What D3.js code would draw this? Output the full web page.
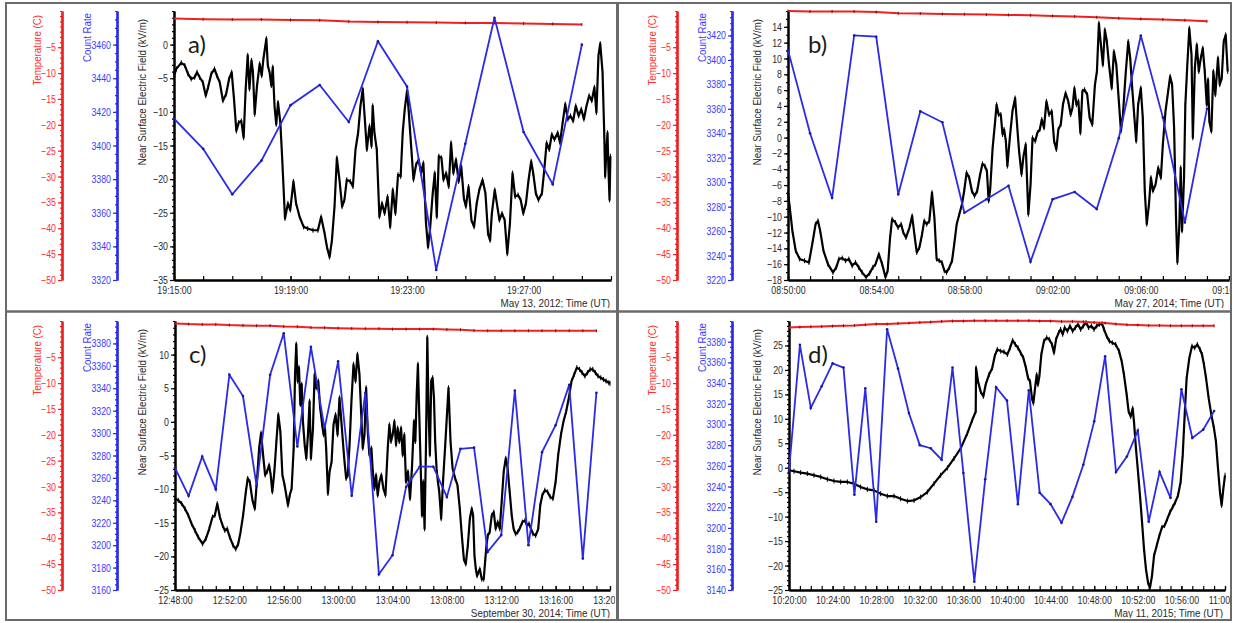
<!DOCTYPE html>
<html lang="en">
<head>
<meta charset="utf-8">
<title>Near surface electric field, count rate and temperature</title>
<script src="https://d3js.org/d3.v7.min.js"></script>
<style>
  body { margin: 0; background: #fff; }
  .tag { font-family: Lato, "Open Sans", sans-serif; font-size: 24px; fill: #1a1a1a; }
</style>
</head>
<body>
<script>
// every series is indexed by minutes after the panel's start time

// temperature (C), one sample per minute
const tempA = [0.54, 0.41, 0.35, 0.35, 0.27, 0.21, -0.04, -0.11, -0.17, -0.24, -0.31, -0.31, -0.42, -0.5, -0.62];
const tempB = [2.0, 1.9, 1.9, 1.9, 1.8, 1.56, 1.5, 1.43, 1.37, 1.31, 1.23, 1.18, 1.04, 0.93, 0.79, 0.6, 0.46, 0.35, 0.21, 0.02];
const tempC = [1.53, 1.40, 1.34, 1.34, 1.21, 1.14, 1.08, 1.08, 0.95, 0.88, 0.75, 0.69, 0.62, 0.56, 0.5, 0.5,
               0.43, 0.43, 0.43, 0.43, 0.37, 0.3, 0.17, 0.11, 0.11, 0.11, 0.11, 0.11, 0.11, 0.11, 0.11, 0.11];
const tempD = [0.75, 0.82, 0.88, 0.95, 1.01, 1.08, 1.14, 1.27, 1.40, 1.40, 1.53, 1.59, 1.72, 1.79, 1.92, 1.98, 1.98, 2.05, 2.05, 2.05,
               2.05, 2.05, 2.05, 1.98, 1.98, 1.92, 1.92, 1.85, 1.72, 1.59, 1.40, 1.27, 1.21, 1.14, 1.14, 1.08, 1.08, 1.08, 1.08, 1.08];

// count rate, one sample per minute
const countA = [3416, 3398, 3371, 3391, 3424, 3436, 3414, 3462, 3435, 3326, 3401, 3476, 3408, 3377, 3460];
const countB = [3408, 3340, 3287, 3420, 3419, 3290, 3358, 3349, 3275, 3286, 3297, 3235, 3286, 3292, 3278, 3336, 3420, 3353, 3267, 3360];
const countC = [3269, 3244, 3279, 3250, 3352, 3333, 3253, 3352, 3389, 3288, 3377, 3304, 3364, 3244, 3336, 3174,
                3191, 3252, 3270, 3270, 3243, 3286, 3287, 3194, 3209, 3338, 3200, 3283, 3307, 3343, 3188, 3336];
const countD = [3255, 3377, 3316, 3337, 3359, 3355, 3232, 3335, 3206, 3392, 3354, 3311, 3280, 3277, 3266, 3355, 3253, 3148, 3247, 3336,
                3323, 3223, 3333, 3234, 3223, 3205, 3230, 3261, 3303, 3366, 3254, 3269, 3294, 3206, 3254, 3229, 3334, 3287, 3295, 3313];

// near surface electric field (kV/m): [minute, value]
const fieldA = [[0,-4.6],[0.08,-3.6],[0.25,-2.7],[0.37,-3.1],[0.48,-4.35],[0.59,-5.1],[0.71,-4.85],[0.79,-4.1],[0.88,-4.85],[0.99,-5.6],
  [1.09,-7.6],[1.17,-6.35],[1.28,-4.35],[1.39,-3.6],[1.47,-4.6],[1.57,-5.6],[1.68,-8.35],[1.79,-7.35],[1.89,-5.1],[1.98,-4.1],
  [2.06,-8.1],[2.14,-12.85],[2.22,-11.6],[2.31,-11.35],[2.39,-13.85],[2.46,-6.6],[2.53,-1.6],[2.59,-6.6],[2.66,-2.35],[2.71,-4.1],
  [2.77,-10.35],[2.85,-6.1],[2.94,-2.85],[3.01,-4.6],[3.07,-2.1],[3.17,0.9],[3.22,-3.1],[3.28,-4.1],[3.34,-6.1],[3.39,-3.35],
  [3.45,-9.1],[3.51,-11.85],[3.57,-8.6],[3.65,-11.6],[3.71,-16.6],[3.81,-25.85],[3.91,-23.6],[3.99,-24.6],[4.10,-20.35],[4.19,-23.6],
  [4.31,-25.6],[4.45,-27.1],[4.59,-27.35],[4.77,-27.6],[4.94,-27.6],[5.05,-25.6],[5.17,-28.1],[5.25,-30.1],[5.34,-31.6],[5.42,-29.1],
  [5.51,-24.1],[5.59,-16.85],[5.68,-20.1],[5.77,-24.1],[5.85,-23.1],[5.93,-20.1],[6.05,-20.35],[6.14,-21.1],[6.23,-15.6],[6.32,-13.1],
  [6.40,-9.1],[6.48,-6.6],[6.55,-11.1],[6.62,-15.6],[6.71,-12.1],[6.78,-15.1],[6.82,-9.1],[6.88,-13.1],[6.96,-15.6],[7.05,-25.6],
  [7.14,-23.6],[7.23,-25.1],[7.33,-22.6],[7.42,-27.1],[7.51,-21.6],[7.60,-25.1],[7.69,-19.35],[7.78,-19.6],[7.85,-13.1],[7.92,-9.6],
  [8.00,-6.85],[8.06,-10.1],[8.14,-15.1],[8.22,-20.1],[8.31,-17.85],[8.40,-17.1],[8.48,-19.1],[8.56,-17.6],[8.65,-26.6],[8.72,-30.1],
  [8.79,-27.35],[8.88,-22.1],[8.95,-19.1],[9.02,-25.6],[9.09,-16.6],[9.18,-16.85],[9.25,-20.1],[9.34,-19.1],[9.43,-21.1],[9.51,-14.6],
  [9.59,-19.1],[9.68,-17.1],[9.77,-20.35],[9.86,-18.1],[9.95,-22.85],[10.02,-24.1],[10.11,-21.1],[10.21,-26.1],[10.30,-27.1],[10.39,-23.6],
  [10.48,-21.6],[10.59,-20.1],[10.69,-22.1],[10.78,-28.1],[10.85,-29.1],[10.91,-25.1],[11.01,-21.6],[11.10,-24.1],[11.17,-26.1],[11.26,-25.1],
  [11.35,-26.1],[11.44,-31.1],[11.53,-26.6],[11.62,-19.1],[11.71,-22.6],[11.81,-22.35],[11.90,-23.1],[11.99,-25.1],[12.08,-23.6],[12.17,-20.1],
  [12.26,-17.35],[12.33,-19.1],[12.42,-22.1],[12.51,-23.1],[12.63,-22.1],[12.71,-18.6],[12.79,-14.6],[12.88,-15.6],[12.97,-13.35],[13.06,-14.1],
  [13.17,-13.1],[13.25,-14.6],[13.34,-11.6],[13.43,-8.85],[13.52,-11.1],[13.61,-10.6],[13.70,-11.35],[13.79,-9.1],[13.89,-10.6],[13.98,-9.6],
  [14.07,-11.1],[14.16,-9.1],[14.25,-7.6],[14.34,-8.35],[14.43,-6.35],[14.50,-10.1],[14.57,-1.6],[14.63,0.15],[14.71,-4.1],[14.77,-13.6],
  [14.80,-19.6],[14.85,-15.1],[14.88,-13.1],[14.91,-18.1],[14.95,-23.1],[14.98,-16.6]];

const fieldB = [[0,-6.96],[0.08,-8.85],[0.20,-11.8],[0.35,-14.3],[0.53,-15.35],[0.75,-15.56],[0.95,-15.78],[1.10,-13.47],[1.25,-10.95],[1.36,-10.53],
  [1.46,-11.79],[1.61,-14.31],[1.81,-15.99],[2.04,-17.04],[2.19,-16.4],[2.31,-15.35],[2.46,-15.23],[2.61,-15.56],[2.76,-15.35],[2.91,-16.2],
  [3.06,-15.78],[3.21,-16.4],[3.36,-17.04],[3.54,-17.66],[3.70,-17.16],[3.85,-16.4],[3.97,-15.99],[4.12,-14.73],[4.27,-15.99],[4.42,-17.66],
  [4.52,-16.83],[4.63,-12.63],[4.72,-10.32],[4.87,-10.74],[4.99,-11.37],[5.13,-10.95],[5.23,-12.0],[5.35,-12.63],[5.51,-11.37],[5.63,-9.9],
  [5.75,-12.63],[5.84,-14.52],[5.96,-13.89],[6.08,-12.21],[6.18,-10.53],[6.29,-10.95],[6.41,-10.53],[6.53,-6.96],[6.64,-10.11],[6.74,-15.35],
  [6.86,-15.56],[6.98,-15.78],[7.09,-16.83],[7.19,-17.04],[7.32,-16.4],[7.44,-15.56],[7.54,-13.47],[7.65,-10.95],[7.77,-9.69],[7.89,-8.43],
  [7.99,-6.75],[8.10,-4.44],[8.22,-5.07],[8.34,-6.75],[8.46,-7.38],[8.58,-6.75],[8.70,-4.86],[8.82,-3.31],[8.93,-3.6],[9.02,-4.23],
  [9.10,-8.01],[9.17,-6.54],[9.28,-1.29],[9.38,1.65],[9.46,4.17],[9.55,2.91],[9.65,2.91],[9.73,0.39],[9.80,1.02],[9.88,-0.45],
  [9.95,-3.6],[10.06,-0.03],[10.18,3.33],[10.30,5.0],[10.41,0.81],[10.48,-1.71],[10.59,-4.65],[10.68,-2.34],[10.78,-0.87],[10.90,-9.69],
  [11.00,-5.91],[11.09,-0.03],[11.21,-0.45],[11.31,0.6],[11.42,1.02],[11.51,2.28],[11.61,1.23],[11.72,4.59],[11.84,2.91],[11.96,3.33],
  [12.07,-0.45],[12.17,-1.5],[12.26,1.02],[12.37,1.65],[12.47,4.17],[12.59,5.64],[12.71,4.59],[12.82,2.91],[12.90,3.75],[12.99,6.26],
  [13.08,4.17],[13.17,4.59],[13.26,0.6],[13.35,5.85],[13.45,6.05],[13.57,5.43],[13.68,2.49],[13.80,1.65],[13.92,6.68],[14.01,8.36],
  [14.10,14.45],[14.19,11.72],[14.28,9.2],[14.37,13.61],[14.46,12.14],[14.56,9.2],[14.68,6.26],[14.78,10.88],[14.89,9.2],[15.01,4.38],
  [15.10,0.81],[15.19,2.91],[15.31,7.94],[15.43,12.14],[15.52,10.04],[15.61,6.26],[15.70,2.91],[15.79,-0.45],[15.88,4.17],[16.00,6.26],
  [16.09,2.49],[16.18,-6.75],[16.27,-10.95],[16.37,-8.43],[16.46,-5.07],[16.55,-6.75],[16.67,-5.91],[16.79,-3.81],[16.91,-5.07],[17.00,-0.87],
  [17.12,3.33],[17.24,5.85],[17.33,7.73],[17.42,6.68],[17.51,1.23],[17.60,-10.53],[17.66,-15.78],[17.75,-10.95],[17.81,-3.81],[17.87,-11.79],
  [17.96,-5.07],[18.02,4.17],[18.11,9.2],[18.20,13.82],[18.30,10.46],[18.36,-0.03],[18.45,8.78],[18.54,11.72],[18.63,8.36],[18.72,10.04],
  [18.81,11.3],[18.90,8.36],[18.99,4.17],[19.05,7.31],[19.11,2.07],[19.20,0.81],[19.29,8.36],[19.38,5.43],[19.50,10.04],[19.58,6.68],
  [19.67,7.52],[19.76,12.14],[19.85,12.98],[19.94,8.36]];

const fieldC = [[0,-11.41],[0.24,-11.66],[0.49,-12.16],[0.73,-12.91],[0.98,-13.9],[1.22,-15.15],[1.47,-16.15],[1.71,-17.15],[2.03,-18.15],[2.27,-17.4],
  [2.52,-15.9],[2.76,-14.15],[2.93,-13.9],[3.11,-12.16],[3.30,-14.15],[3.50,-15.4],[3.67,-16.15],[3.84,-15.9],[4.03,-17.15],[4.28,-18.4],
  [4.47,-18.9],[4.65,-18.15],[4.82,-16.4],[5.01,-13.9],[5.21,-10.41],[5.35,-8.41],[5.50,-8.91],[5.70,-11.66],[5.87,-12.91],[6.04,-8.41],
  [6.19,-3.92],[6.33,-1.67],[6.48,-4.92],[6.63,-7.91],[6.77,-7.41],[6.92,-6.42],[7.04,-7.91],[7.16,-10.41],[7.31,-7.41],[7.46,-2.92],
  [7.60,1.07],[7.75,-1.42],[7.90,-7.91],[8.04,-9.16],[8.19,-10.91],[8.31,-12.41],[8.44,-10.91],[8.58,-9.91],[8.73,-3.92],[8.83,7.06],
  [8.92,11.56],[9.02,6.07],[9.12,8.06],[9.22,2.57],[9.32,5.57],[9.41,0.07],[9.54,-3.42],[9.66,-5.42],[9.78,-1.92],[9.90,3.07],
  [10.00,-5.42],[10.15,-0.92],[10.27,7.06],[10.39,5.07],[10.54,6.07],[10.68,2.07],[10.83,-0.43],[10.93,-1.92],[11.03,-0.92],[11.12,-3.92],
  [11.25,-10.66],[11.37,-7.41],[11.52,-5.92],[11.66,-0.43],[11.81,1.07],[11.96,-1.92],[12.10,3.57],[12.22,0.57],[12.35,-2.92],[12.47,-5.92],
  [12.59,-8.41],[12.71,-7.91],[12.84,-3.42],[12.98,3.07],[13.13,8.56],[13.28,6.07],[13.42,10.06],[13.57,7.06],[13.69,1.57],[13.81,-3.92],
  [13.94,-1.92],[14.06,5.07],[14.18,-1.42],[14.30,-4.92],[14.45,-3.92],[14.55,-7.41],[14.67,-9.91],[14.79,-7.91],[14.91,-10.91],[15.04,-8.91],
  [15.18,-7.91],[15.33,-9.91],[15.48,-10.91],[15.65,-3.92],[15.77,-0.43],[15.89,-2.92],[16.01,-1.92],[16.14,0.07],[16.26,-3.42],[16.38,-0.92],
  [16.50,-2.92],[16.63,-0.92],[16.75,-4.92],[16.87,-1.92],[16.99,-8.91],[17.14,-7.41],[17.29,-11.41],[17.43,-6.92],[17.58,0.07],[17.68,-2.92],
  [17.78,4.07],[17.87,8.56],[17.97,1.07],[18.07,-6.42],[18.17,-13.9],[18.26,-8.91],[18.36,-15.9],[18.46,-3.92],[18.56,12.56],[18.66,1.07],
  [18.75,-4.92],[18.85,6.07],[18.95,6.56],[19.05,3.57],[19.14,-2.92],[19.24,-6.92],[19.34,-8.91],[19.44,-10.41],[19.58,-14.4],[19.73,-8.41],
  [19.88,-3.42],[20.02,1.57],[20.12,5.07],[20.27,-2.92],[20.42,-6.92],[20.61,-8.41],[20.78,-9.41],[20.95,-12.91],[21.10,-16.9],[21.25,-20.4],
  [21.39,-21.14],[21.54,-18.4],[21.69,-14.4],[21.83,-12.91],[21.93,-13.9],[22.03,-19.9],[22.13,-21.89],[22.22,-22.89],[22.32,-22.39],[22.42,-21.89],
  [22.57,-23.39],[22.71,-23.39],[22.81,-20.89],[22.91,-18.4],[23.01,-16.9],[23.15,-16.4],[23.30,-13.9],[23.45,-13.41],[23.59,-15.9],[23.74,-14.9],
  [23.89,-15.9],[24.03,-11.91],[24.18,-7.41],[24.33,-5.42],[24.47,-6.92],[24.62,-10.41],[24.77,-13.9],[24.91,-15.9],[25.06,-16.65],[25.21,-16.4],
  [25.35,-15.9],[25.55,-14.9],[25.75,-14.65],[25.89,-15.4],[26.04,-15.15],[26.19,-15.9],[26.33,-16.65],[26.53,-16.9],[26.72,-15.9],[26.87,-12.41],
  [27.02,-10.91],[27.21,-10.16],[27.41,-10.41],[27.60,-11.16],[27.80,-11.41],[28.00,-8.91],[28.19,-4.92],[28.39,-1.92],[28.58,0.07],[28.78,1.57],
  [28.97,3.57],[29.17,6.07],[29.37,7.06],[29.56,8.06],[29.76,7.81],[29.95,7.31],[30.15,6.81],[30.34,7.31],[30.54,7.81],[30.73,7.81],
  [30.93,7.31],[31.12,6.81],[31.32,6.56],[31.52,6.31],[31.71,6.07],[31.91,5.82],[32.0,5.72]];

const fieldD = [[0,-0.51],[0.46,-0.72],[1.07,-0.99],[1.68,-1.2],[2.29,-1.54],[2.91,-1.88],[3.52,-2.36],[4.13,-2.71],[4.74,-2.91],[5.35,-2.91],
  [5.96,-3.26],[6.57,-3.94],[7.19,-4.42],[7.80,-4.63],[8.41,-5.31],[9.02,-5.79],[9.63,-5.79],[10.24,-6.34],[10.86,-6.82],[11.47,-6.69],
  [12.08,-6.0],[12.69,-4.97],[13.30,-3.26],[13.91,-1.54],[14.53,-0.03],[15.14,1.89],[15.75,3.95],[16.36,7.03],[16.82,9.78],[17.13,11.49],
  [17.16,20.41],[17.34,17.66],[17.58,15.6],[17.83,14.58],[18.04,16.98],[18.35,19.03],[18.65,20.41],[18.87,22.81],[19.11,24.18],[19.42,23.84],
  [19.72,23.7],[20.03,23.15],[20.28,24.52],[20.52,26.03],[20.76,25.21],[21.01,24.52],[21.25,23.49],[21.50,22.46],[21.74,20.41],[21.93,18.35],
  [22.11,17.66],[22.29,14.23],[22.42,13.2],[22.54,15.6],[22.72,19.03],[22.84,16.98],[22.97,18.69],[23.15,23.15],[23.39,25.89],[23.64,26.58],
  [23.88,26.24],[24.13,25.21],[24.31,23.49],[24.50,26.24],[24.74,27.61],[24.92,28.29],[25.11,27.27],[25.29,28.64],[25.54,27.95],[25.78,28.98],
  [26.02,27.95],[26.27,28.64],[26.51,29.32],[26.76,28.29],[27.00,28.98],[27.25,29.67],[27.49,28.64],[27.74,28.98],[27.98,28.29],[28.23,28.98],
  [28.47,29.32],[28.72,29.46],[28.90,28.29],[29.14,26.92],[29.39,25.89],[29.66,25.55],[29.97,25.21],[30.28,23.84],[30.52,21.78],[30.73,19.03],
  [30.98,14.92],[31.16,11.49],[31.35,10.46],[31.53,12.17],[31.65,9.43],[31.83,3.95],[32.02,-0.86],[32.20,-5.66],[32.39,-11.14],[32.57,-16.63],
  [32.75,-20.75],[32.94,-23.49],[33.12,-24.52],[33.30,-22.12],[33.49,-18.0],[33.73,-15.94],[33.98,-13.89],[34.22,-12.17],[34.46,-11.83],[34.71,-10.46],
  [34.95,-9.09],[35.20,-8.06],[35.44,-7.03],[35.69,-5.66],[35.93,-2.91],[36.12,2.57],[36.30,10.8],[36.48,18.35],[36.73,22.46],[36.97,24.86],
  [37.22,24.52],[37.46,25.21],[37.71,24.18],[37.89,23.15],[38.07,21.09],[38.26,18.35],[38.50,14.23],[38.75,10.8],[38.99,8.06],[39.17,5.32],
  [39.36,-0.17],[39.54,-4.97],[39.69,-7.71],[39.85,-4.29],[40.00,-1.54]];

const panels = [
  {tag: "a)", ox: 0,   oy: 0,   ymd: [2012, 5, 13], start: [19, 15], mins: 15, xr: [174, 611], tagX: 188, dateX: 610,
   field: fieldA, count: countA, temp: tempA, eDom: [-35, 5],  eStep: 5, cDom: [3320, 3480], date: "May 13, 2012; Time (UT)"},
  {tag: "b)", ox: 615, oy: 0,   ymd: [2014, 5, 27], start: [8, 50],  mins: 20, xr: [173, 614], tagX: 193, dateX: 609,
   field: fieldB, count: countB, temp: tempB, eDom: [-18, 16], eStep: 2, cDom: [3220, 3440], date: "May 27, 2014; Time (UT)"},
  {tag: "c)", ox: 0,   oy: 310, ymd: [2014, 9, 30], start: [12, 48], mins: 32, xr: [175, 610], tagX: 189, dateX: 610,
   field: fieldC, count: countC, temp: tempC, eDom: [-25, 15], eStep: 5, cDom: [3160, 3400], date: "September 30, 2014; Time (UT)"},
  {tag: "d)", ox: 615, oy: 310, ymd: [2015, 5, 11], start: [10, 20], mins: 40, xr: [174, 610], tagX: 193, dateX: 608,
   field: fieldD, count: countD, temp: tempD, eDom: [-25, 30], eStep: 5, cDom: [3140, 3400], date: "May 11, 2015; Time (UT)"}
];
const tempDom = [-50, 2];

const w = 1234, h = 623;
const fontStack = '"Liberation Sans", Arial, sans-serif';
const redLine = "#f02020", redText = "#ff3030";
const blueLine = "#2a2ae8", blueText = "#3c3cff";
const ink = "#2a2a2a";

const svg = d3.select("body").append("svg")
    .attr("width", w)
    .attr("height", h)
    .style("display", "block");

svg.append("rect").attr("width", w).attr("height", h).attr("fill", "#fff");

// the figure's labels use a narrow face; squeeze the glyphs to match
function squeeze(sel, f) {
  sel.each(function() {
    const len = this.getComputedTextLength();
    if (len > 0) d3.select(this).attr("textLength", len * f).attr("lengthAdjust", "spacingAndGlyphs");
  });
}

// restyle a d3 axis group
function paint(sel, lineCol, textCol, width) {
  sel.attr("font-family", fontStack).attr("font-size", 11);
  sel.select(".domain").attr("stroke", lineCol).attr("stroke-width", width);
  sel.selectAll(".tick line").attr("stroke", lineCol).attr("stroke-width", 1.2);
  sel.selectAll(".tick text").attr("fill", textCol).call(squeeze, 0.8);
}

panels.forEach((p, k) => {
  const g = svg.append("g").attr("transform", `translate(${p.ox},${p.oy})`);

  // clip each panel at its frame, so labels are cut like the figure
  const clipId = "clip" + k;
  g.append("clipPath").attr("id", clipId)
    .append("rect").attr("x", p.ox ? 4 : 7).attr("y", 3).attr("width", p.ox ? 612 : 608).attr("height", 305);
  const c = g.append("g").attr("clip-path", `url(#${clipId})`);

  const t0 = new Date(Date.UTC(p.ymd[0], p.ymd[1] - 1, p.ymd[2], p.start[0], p.start[1]));
  const at = m => new Date(t0.getTime() + m * 60000);

  const x  = d3.scaleUtc().domain([t0, at(p.mins)]).range(p.xr);
  const yE = d3.scaleLinear().domain(p.eDom).range([280, 11]);
  const yC = d3.scaleLinear().domain(p.cDom).range([280, 11]);
  const yT = d3.scaleLinear().domain(tempDom).range([280, 11]);

  // temperature axis
  c.append("g").attr("transform", "translate(62,0)")
    .call(d3.axisLeft(yT).tickValues(d3.range(-50, 3, 1)).tickSize(2).tickSizeOuter(0).tickFormat(""))
    .call(paint, redLine, redText, 2.2);
  c.append("g").attr("transform", "translate(62,0)")
    .call(d3.axisLeft(yT).tickValues(d3.range(-50, -4, 5)).tickSize(4).tickSizeOuter(0).tickPadding(2))
    .call(paint, redLine, redText, 2.2);

  // count rate axis
  c.append("g").attr("transform", "translate(117,0)")
    .call(d3.axisLeft(yC).tickValues(d3.range(p.cDom[0], p.cDom[1] + 1, 5)).tickSize(2).tickSizeOuter(0).tickFormat(""))
    .call(paint, blueLine, blueText, 2.2);
  c.append("g").attr("transform", "translate(117,0)")
    .call(d3.axisLeft(yC).tickValues(d3.range(p.cDom[0], p.cDom[1], 20)).tickSize(4).tickSizeOuter(0).tickPadding(2).tickFormat(d3.format("d")))
    .call(paint, blueLine, blueText, 2.2);

  // electric field axis
  c.append("g").attr("transform", `translate(${p.xr[0]},0)`)
    .call(d3.axisLeft(yE).tickValues(d3.range(p.eDom[0], p.eDom[1] + 1, 1)).tickSize(2).tickSizeOuter(0).tickFormat(""))
    .call(paint, "#000", ink, 2);
  c.append("g").attr("transform", `translate(${p.xr[0]},0)`)
    .call(d3.axisLeft(yE).tickValues(d3.range(p.eDom[0], p.eDom[1], p.eStep)).tickSize(4).tickSizeOuter(0).tickPadding(2))
    .call(paint, "#000", ink, 2);

  // time axis, ticks pointing up
  c.append("g").attr("transform", "translate(0,280)")
    .call(d3.axisBottom(x).tickValues(d3.range(0, p.mins + 1).map(at)).tickSize(-4).tickSizeOuter(0).tickFormat(""))
    .call(paint, "#000", ink, 2.2);
  c.append("g").attr("transform", "translate(0,280)")
    .call(d3.axisBottom(x).tickValues(d3.range(0, p.mins + 1, 4).map(at)).tickSize(-4).tickSizeOuter(0)
      .tickPadding(6).tickFormat(d3.utcFormat("%H:%M:%S")))
    .call(paint, "#000", ink, 2.2);

  // axis titles
  const title = (tx, ty, txt, col) => c.append("text")
    .attr("transform", `translate(${tx},${ty}) rotate(-90)`)
    .attr("text-anchor", "end")
    .attr("font-family", fontStack).attr("font-size", 11)
    .attr("fill", col).text(txt).call(squeeze, 0.88);
  title(41, 15, "Temperature (C)", redText);
  title(91, 13, "Count Rate", blueText);
  title(146, 19, "Near Surface Electric Field (kV/m)", ink);

  c.append("text")
    .attr("x", p.dateX).attr("y", 307)
    .attr("text-anchor", "end")
    .attr("font-family", fontStack).attr("font-size", 11)
    .attr("fill", ink).text(p.date).call(squeeze, 0.9);

  c.append("text").attr("class", "tag").attr("x", p.tagX).attr("y", 53).text(p.tag);

  // electric field trace
  const fieldLine = d3.line().x(d => x(at(d[0]))).y(d => yE(d[1]));
  c.append("path").datum(p.field)
    .attr("fill", "none").attr("stroke", "#000").attr("stroke-width", 2.2)
    .attr("stroke-linejoin", "round").attr("d", fieldLine);
  c.append("path")
    .attr("stroke", "#000").attr("stroke-width", 1).attr("fill", "none")
    .attr("d", p.field.map(d => `M${x(at(d[0]))},${yE(d[1]) - 2.5}v5`).join(""));

  // temperature trace
  const tempLine = d3.line().x((d, i) => x(at(i))).y(d => yT(d));
  c.append("path").datum(p.temp)
    .attr("fill", "none").attr("stroke", redLine).attr("stroke-width", 2).attr("d", tempLine);
  c.append("path")
    .attr("stroke", "#7a1010").attr("stroke-width", 1).attr("fill", "none")
    .attr("d", p.temp.map((d, i) => `M${x(at(i))},${yT(d) - 1.5}v3`).join(""));

  // count rate trace
  const countLine = d3.line().x((d, i) => x(at(i))).y(d => yC(d));
  c.append("path").datum(p.count)
    .attr("fill", "none").attr("stroke", blueLine).attr("stroke-width", 1.8)
    .attr("stroke-linejoin", "miter").attr("d", countLine);
  c.selectAll("circle.cr").data(p.count).join("circle")
    .attr("class", "cr")
    .attr("cx", (d, i) => x(at(i))).attr("cy", d => yC(d))
    .attr("r", 1.3).attr("fill", "#1a1a90");
});

// frames between and around the four panels
const frame = svg.append("g").attr("fill", "none").attr("stroke", "#6a6a6a");
frame.append("rect").attr("x", 6).attr("y", 3).attr("width", 1225).attr("height", 617).attr("stroke-width", 2);
frame.append("line").attr("x1", 617.5).attr("x2", 617.5).attr("y1", 3).attr("y2", 620).attr("stroke-width", 3);
frame.append("line").attr("x1", 6).attr("x2", 1231).attr("y1", 311.5).attr("y2", 311.5).attr("stroke-width", 2.5);
</script>
</body>
</html>
